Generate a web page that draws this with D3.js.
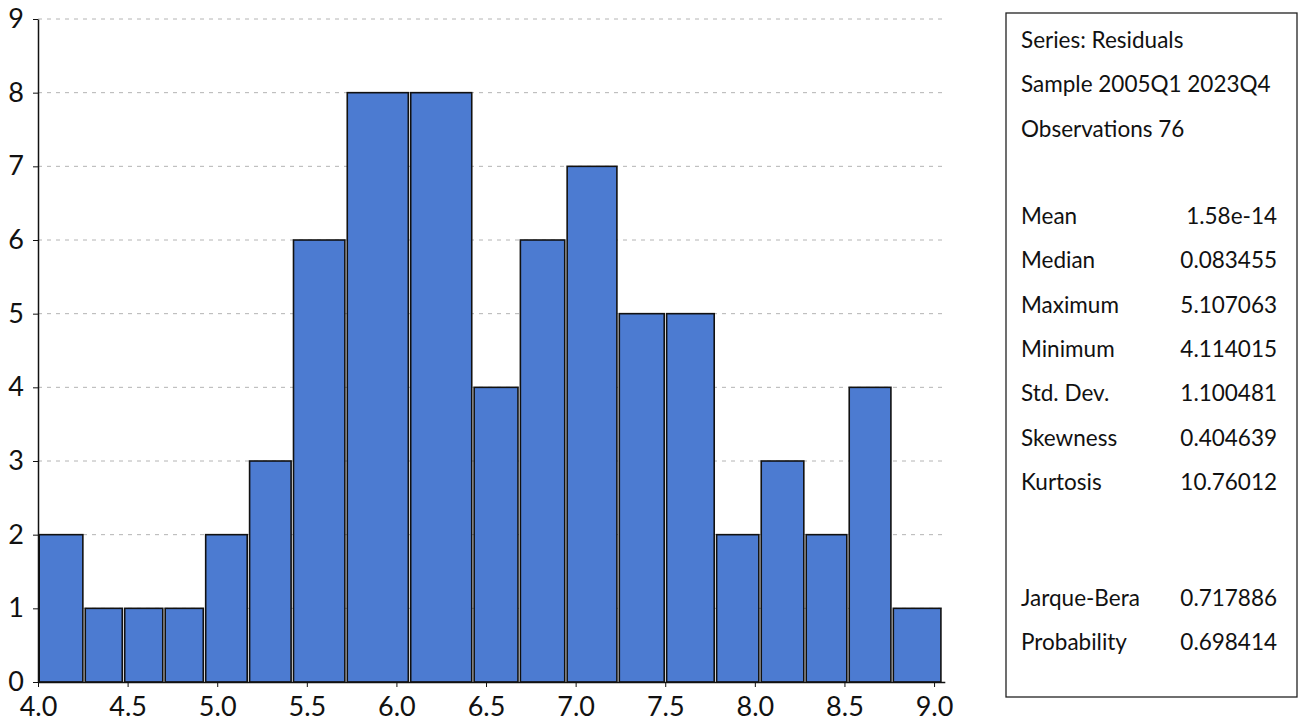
<!DOCTYPE html>
<html>
<head>
<meta charset="utf-8">
<script src="https://cdn.jsdelivr.net/npm/d3@7"></script>
<style>
  html, body { margin: 0; padding: 0; background: #fff; }
  svg { display: block; }
</style>
</head>
<body>
<div id="chart"></div>
<script>
// -- Data -------------------------------------------------------------
var BIN_EDGES = [4.0, 4.257, 4.477, 4.703, 4.929, 5.174, 5.419, 5.719, 6.073, 6.427,
                 6.685, 6.946, 7.237, 7.501, 7.780, 8.029, 8.280, 8.520, 8.766, 9.045];
var COUNTS = [2, 1, 1, 1, 2, 3, 6, 8, 8, 4, 6, 7, 5, 5, 2, 3, 2, 4, 1];
var X_TICKS = [4.0, 4.5, 5.0, 5.5, 6.0, 6.5, 7.0, 7.5, 8.0, 8.5, 9.0];
var Y_TICKS = [0, 1, 2, 3, 4, 5, 6, 7, 8, 9];

var HEADER_LINES = ["Series: Residuals", "Sample 2005Q1 2023Q4", "Observations 76"];
var STAT_LABELS = ["Mean", "Median", "Maximum", "Minimum", "Std. Dev.", "Skewness", "Kurtosis"];
var STAT_VALUES = ["1.58e-14", "0.083455", "5.107063", "4.114015", "1.100481", "0.404639", "10.76012"];
var TEST_LABELS = ["Jarque-Bera", "Probability"];
var TEST_VALUES = ["0.717886", "0.698414"];

(function () {
  var W = 1299, H = 722;
  var FONT = "Lato, 'Open Sans', sans-serif";
  var BAR_FILL = "#4c7bd1";

  var svg = d3.select("#chart").append("svg")
    .attr("width", W).attr("height", H);

  var x = d3.scaleLinear().domain([4, 9.06]).range([38, 944.8]);
  var y = d3.scaleLinear().domain([0, 9]).range([682, 19]);

  // gridlines
  svg.append("g")
    .selectAll("line")
    .data(Y_TICKS.filter(function (d) { return d > 0; }))
    .join("line")
      .attr("x1", x(4)).attr("x2", x(9.06))
      .attr("y1", function (d) { return y(d); })
      .attr("y2", function (d) { return y(d); })
      .attr("stroke", "#b4b4b4")
      .attr("stroke-width", 1)
      .attr("stroke-dasharray", "4,5");

  // bars
  var bins = COUNTS.map(function (c, i) {
    return { x0: BIN_EDGES[i], x1: BIN_EDGES[i + 1], n: c };
  });
  svg.append("g")
    .selectAll("rect")
    .data(bins)
    .join("rect")
      .attr("x", function (d) { return x(d.x0) + 1.2; })
      .attr("width", function (d) { return x(d.x1) - x(d.x0) - 2.4; })
      .attr("y", function (d) { return y(d.n); })
      .attr("height", function (d) { return y(0) - y(d.n); })
      .attr("fill", BAR_FILL)
      .attr("stroke", "#111")
      .attr("stroke-width", 1.6);

  // x axis
  var xAxis = svg.append("g")
    .attr("transform", "translate(0," + y(0) + ")")
    .call(d3.axisBottom(x).tickValues(X_TICKS).tickFormat(d3.format(".1f"))
      .tickSizeInner(5).tickSizeOuter(0).tickPadding(10));
  xAxis.select(".domain").attr("stroke", "#111").attr("stroke-width", 1.5);
  xAxis.selectAll(".tick line").attr("stroke", "#111");
  xAxis.selectAll("text")
    .attr("font-family", FONT).attr("font-size", "27px").attr("fill", "#111");

  // y axis
  var yAxis = svg.append("g")
    .attr("transform", "translate(" + x(4) + ",0)")
    .call(d3.axisLeft(y).tickValues(Y_TICKS).tickFormat(d3.format("d"))
      .tickSizeInner(5).tickSizeOuter(0).tickPadding(9));
  yAxis.select(".domain").attr("stroke", "#111").attr("stroke-width", 1.5);
  yAxis.selectAll(".tick line").attr("stroke", "#111");
  yAxis.selectAll("text")
    .attr("font-family", FONT).attr("font-size", "27px").attr("fill", "#111");

  // stats box
  var box = svg.append("g");
  box.append("rect")
    .attr("x", 1006).attr("y", 13)
    .attr("width", 291).attr("height", 684)
    .attr("fill", "#fff")
    .attr("stroke", "#222").attr("stroke-width", 1.3);

  var LX = 1021, RX = 1277, STEP = 44.3;
  function addText(str, xx, yy, anchor) {
    box.append("text")
      .attr("x", xx).attr("y", yy)
      .attr("text-anchor", anchor)
      .attr("font-family", FONT)
      .attr("font-size", "22.5px")
      .attr("fill", "#111")
      .text(str);
  }
  HEADER_LINES.forEach(function (t, i) { addText(t, LX, 48 + i * STEP, "start"); });
  STAT_LABELS.forEach(function (t, i) {
    addText(t, LX, 224 + i * STEP, "start");
    addText(STAT_VALUES[i], RX, 224 + i * STEP, "end");
  });
  TEST_LABELS.forEach(function (t, i) {
    addText(t, LX, 606 + i * STEP, "start");
    addText(TEST_VALUES[i], RX, 606 + i * STEP, "end");
  });
})();
</script>
</body>
</html>
